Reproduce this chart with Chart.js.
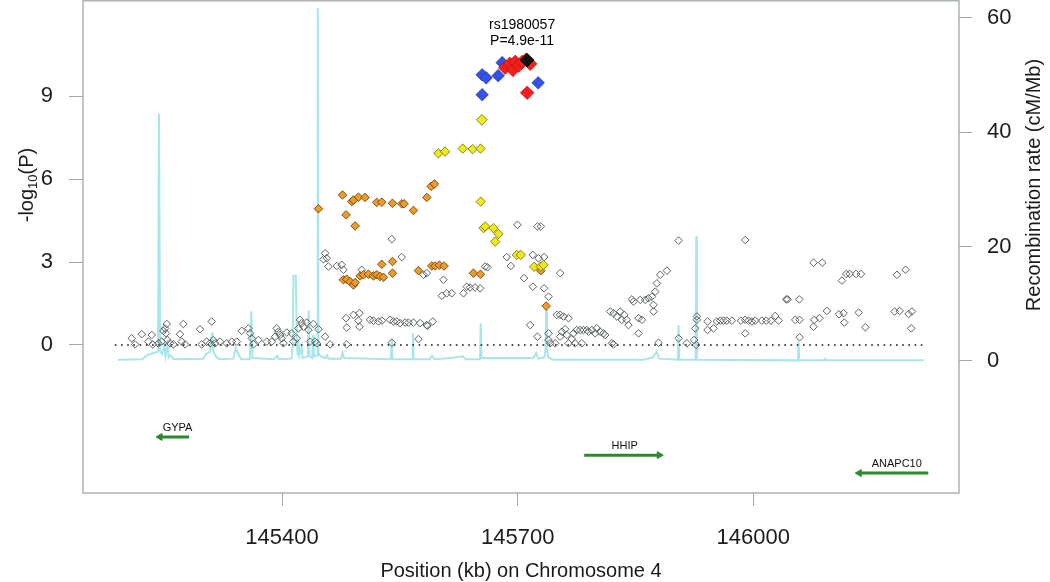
<!DOCTYPE html>
<html><head><meta charset="utf-8">
<script src="https://cdn.jsdelivr.net/npm/chart.js@4.4.0/dist/chart.umd.min.js"></script>
<style>html,body{margin:0;padding:0;background:#fff;}#outer{width:1050px;height:582px;position:relative;overflow:hidden;}#wrap{position:absolute;left:0;top:-7px;width:1050px;height:589px;}</style>
</head><body><div id="outer"><div id="wrap"><canvas id="c"></canvas></div></div>
<script>
// ---- tick labels ----
const xTicks = [145400, 145700, 146000];
const yTicks = [0, 3, 6, 9];
const y2Ticks = [0, 20, 40, 60];

// ---- SNPs (position kb, -log10 P) by LD colour class ----
const grayPos = [145208.5,145212.8,145221.3,145229.7,145234.0,145235.3,145242.5,145246.7,145248.9,145251.0,145253.1,145252.2,145254.0,145257.3,145261.6,145270.0,145274.3,145272.2,145276.5,145295.6,145297.7,145304.0,145308.3,145310.4,145312.5,145314.7,145321.0,145329.5,145335.9,145342.3,145348.6,145357.1,145359.2,145361.4,145363.5,145369.9,145380.5,145386.8,145391.1,145393.2,145395.3,145397.5,145399.6,145401.7,145406.0,145412.3,145414.4,145418.7,145420.8,145422.9,145425.0,145427.2,145431.4,145433.6,145435.7,145439.9,145442.0,145444.2,145446.3,145454.8,145461.2,145482.4,145482.4,145481.5,145490.9,145498.5,145497.2,145498.5,145512.1,145516.4,145522.7,145527.0,145537.6,145541.8,145546.1,145550.3,145556.7,145560.9,145567.3,145573.7,145575.8,145584.3,145539.7,145591.9,145585.1,
145454.8,145456.9,145459.0,145452.7,145469.6,145476.0,145478.1,145501.5,145539.7,145552.4,145580.0,145584.3,145603.4,145609.7,145616.1,145605.5,145631.0,145635.2,145639.4,145645.8,145652.2,145658.6,145661.5,145686.1,145691.3,145699.7,145725.2,145729.5,145719.3,145708.2,145719.3,145715.9,145725.2,
145754.1,145726.5,145733.7,145733.7,145739.3,145739.3,145739.3,145741.4,145749.9,145754.1,145758.4,145764.7,145747.8,145754.1,145756.3,145760.5,145762.6,145764.7,145769.0,145771.1,145775.3,145779.6,145783.8,145788.1,145790.2,145794.5,145798.7,145800.8,145805.1,145809.3,145811.4,145781.7,145773.2,145820.0,145822.1,145817.8,145822.1,145826.3,145830.6,145832.7,145835.7,145841.1,145838.9,145845.4,145847.5,145853.9,145858.2,145853.9,145856.0,145862.4,145866.6,145870.9,145875.1,145877.3,145881.5,145890.0,145873.0,145873.0,145904.9,145879.4,145904.9,145915.5,145924.8,145927.4,145926.1,145928.2,145928.2,145941.8,145941.8,145949.4,145953.6,
145958.0,145962.2,145966.4,145972.8,145984.3,145989.8,145989.8,145989.8,145994.0,145998.3,146002.5,146011.0,146016.5,146022.5,146028.0,146032.3,146042.0,146043.7,146053.5,146059.0,146058.6,146059.0,146076.8,146077.7,146084.5,146093.8,146076.8,146087.9,146112.9,146118.5,146122.7,146130.8,146137.1,146109.1,146115.0,146115.9,146134.2,146142.7,146183.0,146194.0,146180.0,146186.4,146197.8,146202.1,146201.2];
const grayLogP = [0.24,0.02,0.39,0.12,0.36,0.02,0.06,0.12,0.51,0.60,0.76,0.42,0.18,0.06,0.02,0.39,0.76,0.12,0.02,0.57,0.02,0.12,0.06,0.85,0.18,0.06,0.12,0.06,0.12,0.12,0.51,0.60,0.42,0.24,0.02,0.18,0.12,0.12,0.30,0.60,0.48,0.36,0.24,0.06,0.45,0.42,0.12,0.24,0.60,0.91,0.79,0.66,0.81,0.54,0.12,0.76,0.12,0.06,0.57,0.30,0.02,0.02,0.63,0.97,1.09,1.15,0.88,0.66,0.91,0.88,0.85,0.88,0.91,0.85,0.85,0.79,0.81,0.81,0.81,0.21,0.79,0.72,0.08,0.85,0.69,
3.32,3.14,2.84,3.10,2.86,2.90,2.72,2.72,3.83,3.18,2.54,2.60,1.78,1.87,1.87,2.36,1.87,2.11,2.08,2.08,2.05,2.84,2.81,3.18,2.86,4.35,4.29,4.29,3.26,2.42,2.11,0.72,0.30,
2.60,3.14,3.18,2.05,1.75,0.42,0.18,0.06,1.09,1.09,1.03,0.97,0.06,0.30,0.48,0.57,0.36,0.06,0.21,0.42,0.54,0.54,0.54,0.54,0.48,0.54,0.42,0.60,0.48,0.42,0.36,0.06,0.06,0.06,0.02,1.21,1.15,1.03,1.21,0.91,1.09,0.72,0.91,1.65,1.57,0.97,0.91,0.42,1.63,1.63,1.69,1.75,1.93,2.23,2.54,2.69,1.45,1.21,3.78,0.08,0.24,0.06,0.18,0.00,0.60,0.91,1.03,0.85,0.54,0.60,0.85,
0.88,0.88,0.88,0.88,0.88,0.91,0.42,3.80,0.88,0.85,0.88,0.88,0.88,0.88,1.05,0.88,1.65,1.65,0.91,0.91,1.65,0.28,0.66,0.91,0.97,1.23,2.98,2.98,2.33,2.57,2.57,2.57,2.57,1.11,1.15,0.81,1.17,0.64,2.54,2.72,1.21,1.23,1.12,1.21,0.60];

const orangePos = [145446.3,145476.9,145481.5,145488.7,145490.9,145497.2,145505.7,145493.0,145520.6,145527.0,145540.6,145552.4,145555.4,145567.3,145584.3,145589.8,145594.0,
145478.1,145482.4,145486.6,145490.9,145493.0,145499.4,145503.6,145510.0,145516.4,145520.6,145524.8,145527.0,145529.1,145540.6,145540.6,145573.7,145590.6,145594.9,145600.4,145606.3,145643.7,145652.6,145729.5,145736.3];
const orangeLogP = [4.93,5.43,4.71,5.19,5.25,5.35,5.34,4.31,5.16,5.17,5.13,5.11,5.11,4.87,5.34,5.74,5.83,
2.36,2.38,2.29,2.17,2.26,2.50,2.54,2.56,2.50,2.54,2.48,2.92,2.45,3.02,2.60,2.69,2.86,2.86,2.89,2.86,2.60,2.56,2.69,1.41];

const yellowPos = [145599.1,145607.6,145630.0,145642.6,145652.8,145654.4,145653.0,145656.5,145658.7,145669.2,145675.5,145671.3,145698.9,145704.0,145721.0,145729.5,145732.9];
const yellowLogP = [6.94,7.00,7.11,7.09,7.11,8.15,5.19,4.23,4.29,4.23,4.02,3.74,3.26,3.26,2.83,2.84,2.90];

const bluePos = [145654.8,145659.9,145675.2,145680.3,145726.1,145654.8];
const blueLogP = [9.78,9.67,9.75,10.22,9.49,9.06];

const redPos = [145684.0,145690.0,145694.0,145697.0,145701.0,145706.0,145711.0,145716.0,145712.1];
const redLogP = [10.04,10.18,9.96,10.25,10.11,10.25,10.33,10.18,9.13];

const leadSnp = 'rs1980057';
const leadLabel = 'P=4.9e-11';
const leadPos = [145712.0];
const leadLogP = [10.31];

// ---- recombination rate (cM/Mb) ----
const recombPos = [145191,145222,145228,145236,145242,145243.3,145244.6,145247,145250,145251.5,145254,145255.5,145258,145262,145300,145303,145308,145311,145312.5,145316,145320,145338,145341,145344,145348,145359,145360.8,145362.3,145390,145394,145396,145412,145413.5,145414.5,145417.5,145418.8,145420,145421,145422,145425,145426,145432.8,145433.8,145434.8,145438.5,145439.5,145440.5,145444.5,145445.4,145446.4,145449,145455,145457,145459,145475,145477,145479,145538.7,145539.7,145540.7,145565.5,145566.5,145567.5,145588,145591,145594,145615,145630,145634,145652,145653,145654,145700,145720,145723.6,145726,145734,145735.5,145736.3,145737.3,145739,145745,145860,145872,145877,145880,145904,145904.9,145905.8,145926.6,145927.4,145928.2,146056.9,146057.7,146058.5,146090,146091.7,146093,146217];
const recombRate = [0.2,0.3,1.0,1.4,1.6,43.2,1.8,1.2,2.6,0.8,2.8,0.6,1.0,0.3,0.4,1.2,1.6,5.0,1.6,0.8,0.3,0.4,2.3,1.2,0.3,0.3,8.7,0.5,0.3,0.9,0.3,0.4,3.0,14.9,14.9,3.0,1.0,3.7,1.0,2.5,0.5,0.8,8.8,0.8,0.5,4.5,0.8,1.0,61.7,1.5,0.8,0.5,1.0,0.4,0.4,1.4,0.5,0.3,3.7,0.3,0.3,4.9,0.3,0.3,0.9,0.3,0.5,0.8,0.3,0.3,6.6,0.5,0.5,0.5,1.4,0.4,0.6,2.0,8.9,2.0,0.6,0.2,0.2,0.6,1.6,0.4,0.2,6.3,0.2,0.2,21.8,0.2,0.1,3.4,0.1,0.1,0.4,0.1,0.1];

// ---- significance reference line ----
const refLineStart = 145187, refLineEnd = 146218, refLineValue = 0;

// ---- genes ----
const geneNames = ['GYPA', 'HHIP', 'ANAPC10'];
const geneStart = [145244.6, 145784.7, 146135.0];
const geneEnd = [145281.5, 145880.3, 146222.9];
const geneStrand = [-1, 1, -1];
const geneRow = [-3.33, -3.99, -4.64];

const FONT = "'Liberation Sans', Arial, Helvetica, sans-serif";
const BOX = '#9fa8a8';
const GREEN = '#2b8a2b';
const SHIFT = 7; // canvas is offset upward by this many px inside the page

function pts(xs, ys) { return xs.map((x, i) => ({ x: x, y: ys[i] })); }

const datasets = [
  { label: 'lead', data: pts(leadPos, leadLogP), pointStyle: 'rectRot', pointRadius: 6.8, backgroundColor: '#111', borderColor: '#000', borderWidth: 1, order: 1 },
  { label: 'red', data: pts(redPos, redLogP), pointStyle: 'rectRot', pointRadius: 6.8, backgroundColor: '#f81d1d', borderColor: '#a01010', borderWidth: 0.6, order: 2 },
  { label: 'blue', data: pts(bluePos, blueLogP), pointStyle: 'rectRot', pointRadius: 6.3, backgroundColor: '#3352ec', borderColor: '#20308a', borderWidth: 0.6, order: 3 },
  { label: 'yellow', data: pts(yellowPos, yellowLogP), pointStyle: 'rectRot', pointRadius: yellowLogP.map(v => v > 8 ? 5.4 : 4.7), backgroundColor: '#f0ea14', borderColor: '#6b6a20', borderWidth: 0.8, order: 4 },
  { label: 'orange', data: pts(orangePos, orangeLogP), pointStyle: 'rectRot', pointRadius: 4.3, backgroundColor: '#f29a26', borderColor: '#5a3a10', borderWidth: 0.8, order: 5 },
  { label: 'gray', data: pts(grayPos, grayLogP), pointStyle: 'rectRot', pointRadius: 3.8, backgroundColor: 'rgba(255,255,255,0)', borderColor: '#5c6262', borderWidth: 1, order: 6 },
  { label: 'ref', data: [{ x: refLineStart, y: refLineValue }, { x: refLineEnd, y: refLineValue }], showLine: true, pointRadius: 0, borderColor: '#111', borderWidth: 1.6, borderDash: [1.6, 4.6], order: 7 },
  { label: 'recomb', data: pts(recombPos, recombRate), yAxisID: 'y2', showLine: true, pointRadius: 0, borderColor: '#a9e6e8', borderWidth: 2, tension: 0, order: 10 }
];
geneNames.forEach((g, i) => {
  const left = geneStrand[i] < 0;
  datasets.push({
    label: g, data: [{ x: geneStart[i], y: geneRow[i] }, { x: geneEnd[i], y: geneRow[i] }],
    showLine: true, borderColor: GREEN, borderWidth: 3, pointStyle: 'triangle',
    pointRadius: left ? [4, 0] : [0, 4], pointRotation: left ? -90 : 90,
    pointBackgroundColor: GREEN, pointBorderColor: GREEN, pointBorderWidth: 1, order: 8
  });
});

const decor = {
  id: 'decor',
  afterDatasetsDraw(chart) {
    const ctx = chart.ctx, a = chart.chartArea;
    const xs = chart.scales.x, ys = chart.scales.y;
    ctx.save();
    // box
    ctx.strokeStyle = BOX; ctx.lineWidth = 1.3;
    ctx.strokeRect(a.left, a.top, a.right - a.left, a.bottom - a.top);
    // gene labels
    ctx.fillStyle = '#111'; ctx.textAlign = 'center'; ctx.textBaseline = 'alphabetic';
    ctx.font = '11px ' + FONT;
    geneNames.forEach((g, i) => {
      const cx = (xs.getPixelForValue(geneStart[i]) + xs.getPixelForValue(geneEnd[i])) / 2 + 3;
      ctx.fillText(g, cx, ys.getPixelForValue(geneRow[i]) - 6);
    });
    // lead label
    const lx = xs.getPixelForValue(leadPos[0]) - 5, ly = ys.getPixelForValue(leadLogP[0]);
    ctx.font = '14px ' + FONT; ctx.textBaseline = 'middle'; ctx.fillStyle = '#000';
    ctx.fillText(leadSnp, lx, ly - 35);
    ctx.fillText(leadLabel, lx, ly - 19);
    // x title
    ctx.font = '20px ' + FONT; ctx.fillStyle = '#1a1a1a'; ctx.textBaseline = 'alphabetic';
    ctx.fillText('Position (kb) on Chromosome 4', 521, 577 + SHIFT);
    // right title
    ctx.save(); ctx.translate(1040, 185 + SHIFT); ctx.rotate(-Math.PI / 2);
    ctx.textAlign = 'center'; ctx.fillText('Recombination rate (cM/Mb)', 0, 0); ctx.restore();
    // left title with subscript
    ctx.save(); ctx.translate(33, 185 + SHIFT); ctx.rotate(-Math.PI / 2);
    const parts = [['-log', 20, 0], ['10', 13, 4], ['(P)', 20, 0]];
    let tot = 0;
    parts.forEach(p => { ctx.font = p[1] + 'px ' + FONT; tot += ctx.measureText(p[0]).width; });
    let px = -tot / 2; ctx.textAlign = 'left';
    parts.forEach(p => { ctx.font = p[1] + 'px ' + FONT; ctx.fillText(p[0], px, p[2]); px += ctx.measureText(p[0]).width; });
    ctx.restore();
    ctx.restore();
  }
};

function noPad(s) { s.paddingTop = 0; s.paddingBottom = 0; s.paddingLeft = 0; s.paddingRight = 0; }

new Chart(document.getElementById('c'), {
  type: 'scatter',
  data: { datasets: datasets },
  plugins: [decor],
  options: {
    responsive: true, maintainAspectRatio: false, animation: false,
    layout: { padding: { top: 1, left: 0, right: 0, bottom: 0 } },
    plugins: { legend: { display: false }, tooltip: { enabled: false } },
    events: [],
    scales: {
      x: {
        type: 'linear', position: 'bottom', min: 145146.5, max: 146262,
        afterBuildTicks: s => { s.ticks = xTicks.map(v => ({ value: v })); },
        afterFit: s => { s.height = 89; noPad(s); },
        grid: { drawOnChartArea: false, drawTicks: true, tickLength: 13, color: BOX, lineWidth: 1 },
        border: { display: false },
        ticks: { font: { family: FONT, size: 22 }, color: '#1c1c1c', padding: 19, maxRotation: 0, autoSkip: false, callback: v => String(v) }
      },
      y: {
        type: 'linear', position: 'left', min: -5.36, max: 12.46,
        afterBuildTicks: s => { s.ticks = yTicks.map(v => ({ value: v })); },
        afterFit: s => { s.width = 83; noPad(s); },
        grid: { drawOnChartArea: false, drawTicks: true, tickLength: 14, color: BOX, lineWidth: 1 },
        border: { display: false },
        ticks: { font: { family: FONT, size: 22 }, color: '#1c1c1c', padding: 16, autoSkip: false, callback: v => String(v) }
      },
      y2: {
        type: 'linear', position: 'right', min: -23.09, max: 62.97,
        afterBuildTicks: s => { s.ticks = y2Ticks.map(v => ({ value: v })); },
        afterFit: s => { s.width = 91; noPad(s); },
        grid: { drawOnChartArea: false, drawTicks: true, tickLength: 13, color: BOX, lineWidth: 1 },
        border: { display: false },
        ticks: { font: { family: FONT, size: 22 }, color: '#1c1c1c', padding: 15, autoSkip: false, callback: v => String(v) }
      }
    }
  }
});
</script>
</body></html>
